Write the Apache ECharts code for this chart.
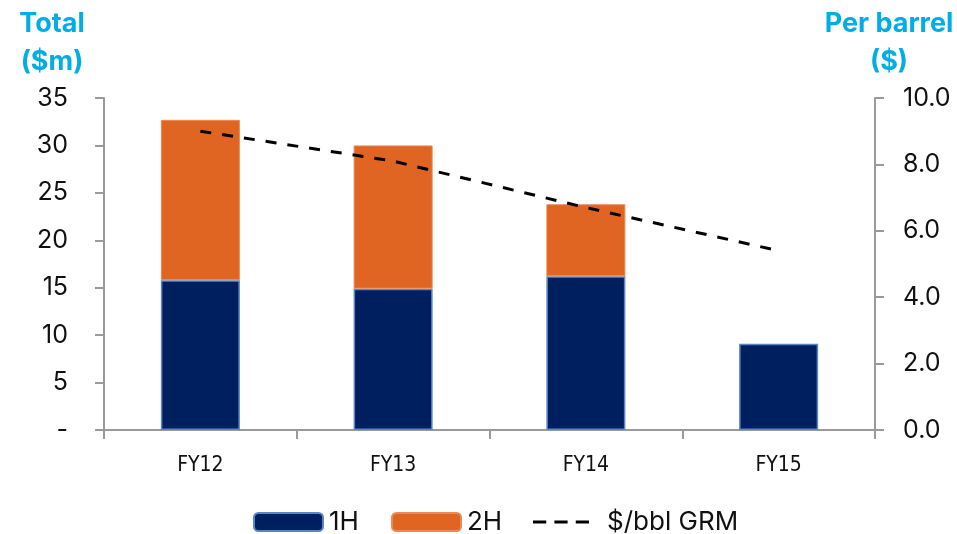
<!DOCTYPE html>
<html>
<head>
<meta charset="utf-8">
<script src="https://cdn.jsdelivr.net/npm/echarts@6/dist/echarts.min.js"></script>
<style>
  html, body { margin: 0; padding: 0; background: #fff; }
  #chart { width: 957px; height: 534px; }
</style>
</head>
<body>
<div id="chart"></div>
<script>
// Refining margin: half-year totals ($m) and per-barrel gross refining margin ($)
const categories = ['FY12', 'FY13', 'FY14', 'FY15'];
const firstHalf = [15.8, 14.9, 16.2, 9.1];
const secondHalf = [16.9, 15.1, 7.6, null];
const grmPerBarrel = [9.0, 8.1, 6.7, 5.4];
const leftTicks = { min: 0, max: 35, interval: 5 };
const rightTicks = { min: 0, max: 10, interval: 2 };

const FONT = 'Inter, "Noto Sans", sans-serif';
const NARROW = '"Liberation Sans Narrow", "DejaVu Sans Condensed", ' + FONT;
const AXIS_GREY = '#9a9a9a';
const CYAN = '#00ade6';
const NAVY = '#001f5f';
const ORANGE = '#e06422';

// three dashes used as the legend key for the GRM line
const DASH_ICON = 'path://M0,0h13v3h-13z M21,0h13v3h-13z M42,0h13v3h-13z';

const legendText = { fontSize: 26, lineHeight: 26, color: '#111', fontFamily: FONT };

const chart = echarts.init(document.getElementById('chart'));

chart.setOption({
  backgroundColor: '#ffffff',
  animation: false,
  textStyle: { fontFamily: FONT },
  grid: { left: 104, right: 82, top: 98, bottom: 104, containLabel: false },
  graphic: [
    {
      type: 'text',
      style: {
        text: 'Total\n($m)', x: 52, y: 5, textAlign: 'center', textVerticalAlign: 'top',
        font: 'bold 27px ' + FONT, lineHeight: 38, fill: CYAN
      }
    },
    {
      type: 'text',
      style: {
        text: 'Per barrel\n($)', x: 889, y: 5, textAlign: 'center', textVerticalAlign: 'top',
        font: 'bold 27px ' + FONT, lineHeight: 38, fill: CYAN
      }
    }
  ],
  legend: [
    {
      data: ['1H'], left: 253, top: 509, padding: 0,
      itemWidth: 69, itemHeight: 18,
      textStyle: Object.assign({ padding: [0, 0, 0, 1] }, legendText)
    },
    {
      data: ['2H'], left: 391, top: 509, padding: 0,
      itemWidth: 69, itemHeight: 18,
      textStyle: Object.assign({ padding: [0, 0, 0, 1] }, legendText)
    },
    {
      data: [{ name: '$/bbl GRM', icon: DASH_ICON, itemStyle: { color: '#000' } }],
      left: 533, top: 509, padding: 0,
      itemWidth: 56, itemHeight: 3, symbolKeepAspect: false,
      textStyle: Object.assign({ padding: [0, 0, 0, 13] }, legendText)
    }
  ],
  xAxis: {
    type: 'category',
    data: categories,
    boundaryGap: true,
    axisLine: { lineStyle: { color: AXIS_GREY, width: 2 } },
    axisTick: { show: true, length: 9, lineStyle: { color: AXIS_GREY, width: 2 } },
    axisLabel: { color: '#111', fontSize: 21, margin: 25, fontFamily: NARROW }
  },
  yAxis: [
    {
      type: 'value',
      min: leftTicks.min, max: leftTicks.max, interval: leftTicks.interval,
      position: 'left',
      splitLine: { show: false },
      axisLine: { show: true, lineStyle: { color: AXIS_GREY, width: 2 } },
      axisTick: { show: true, length: 9, lineStyle: { color: AXIS_GREY, width: 2 } },
      axisLabel: {
        color: '#111', fontSize: 25, margin: 36,
        formatter: v => (v === 0 ? '-' : String(v))
      }
    },
    {
      type: 'value',
      min: rightTicks.min, max: rightTicks.max, interval: rightTicks.interval,
      position: 'right',
      splitLine: { show: false },
      axisLine: { show: true, lineStyle: { color: AXIS_GREY, width: 2 } },
      axisTick: { show: true, length: 9, lineStyle: { color: AXIS_GREY, width: 2 } },
      axisLabel: {
        color: '#111', fontSize: 25, margin: 28,
        formatter: v => v.toFixed(1)
      }
    }
  ],
  series: [
    {
      name: '1H',
      type: 'bar',
      stack: 'total',
      yAxisIndex: 0,
      barWidth: '41%',
      data: firstHalf,
      itemStyle: { color: NAVY, borderColor: '#5b86c4', borderWidth: 1.5 }
    },
    {
      name: '2H',
      type: 'bar',
      stack: 'total',
      yAxisIndex: 0,
      barWidth: '41%',
      data: secondHalf,
      itemStyle: { color: ORANGE, borderColor: '#eb8a55', borderWidth: 1 }
    },
    {
      name: '$/bbl GRM',
      type: 'line',
      yAxisIndex: 1,
      data: grmPerBarrel,
      symbol: 'none',
      lineStyle: { color: '#000', width: 3, type: [11, 11] },
      itemStyle: { color: '#000' }
    }
  ]
});
</script>
</body>
</html>
